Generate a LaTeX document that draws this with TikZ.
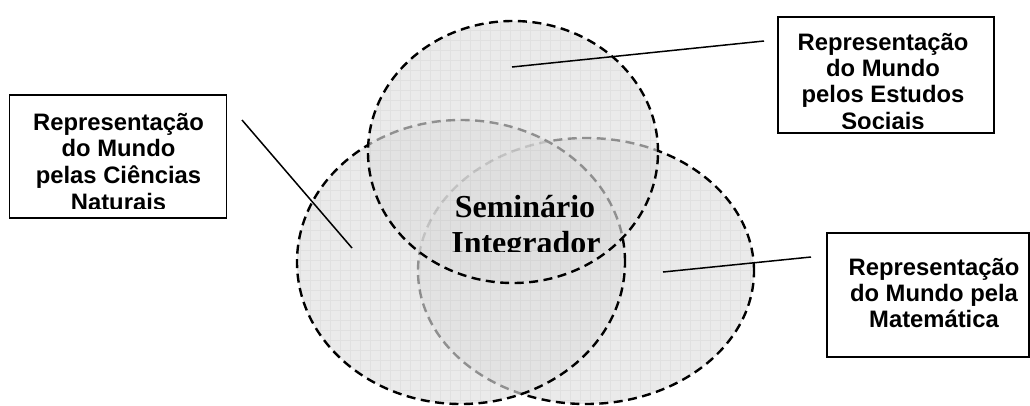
\documentclass[tikz,border=0pt]{standalone}
\usepackage{fontspec}
\setmainfont{Liberation Serif}
\newfontfamily\arialfont{Liberation Sans}
\usetikzlibrary{shapes.geometric}
\begin{document}
\begin{tikzpicture}[x=1pt,y=-1pt,
  venn/.style={ellipse, draw=black, line width=2.4pt, dash pattern=on 9pt off 5.5pt,
    fill=black!13, fill opacity=0.65, inner sep=0pt},
  labelbox/.style={draw=black, line width=1.5pt, inner sep=0pt},
  boxtext/.style={font=\arialfont\bfseries\fontsize{23.8}{26}\selectfont, anchor=base, inner sep=0pt},
  centertext/.style={font=\bfseries\fontsize{32}{36}\selectfont, anchor=base, inner sep=0pt},
  leader/.style={line width=1.5pt}]
\useasboundingbox (0,0) rectangle (1030,405);
% ellipses (drawn in this order so the later fills grey the earlier borders)
\node[venn, minimum width=336pt, minimum height=266pt] (R) at (586,271) {};
\node[venn, minimum width=328pt, minimum height=284pt] (L) at (461,262) {};
\node[venn, minimum width=290pt, minimum height=262pt] (T) at (513,152) {};
% faint grid texture inside the ellipses
\begin{scope}
  \clip (586,271) ellipse [x radius=168pt, y radius=133pt]
        (461,262) ellipse [x radius=164pt, y radius=142pt]
        (513,152) ellipse [x radius=145pt, y radius=131pt];
  \draw[black, opacity=0.04, line width=0.5pt, step=10pt] (290,405) grid (760,15);
\end{scope}
% centre text
\begin{scope}
  \clip (400,150) rectangle (650,251.5);
  \node[centertext] (c1) at (525,217) {Seminário};
  \node[centertext] (c2) at (526,253) {Integrador};
\end{scope}
% left box
\node[labelbox, minimum width=217pt, minimum height=123pt] (BL) at (118,156.5) {};
\begin{scope}
  \clip (10,96) rectangle (226,208.5);
  \node[boxtext] (bl1) at (118.5,130) {Representação};
  \node[boxtext] (bl2) at (118.5,156.7) {do Mundo};
  \node[boxtext] (bl3) at (118.5,183.3) {pelas Ciências};
  \node[boxtext] (bl4) at (118.5,210.5) {Naturais};
\end{scope}
% top right box
\node[labelbox, minimum width=216pt, minimum height=116pt] (BT) at (886,75) {};
\begin{scope}
  \clip (779,18) rectangle (993,128.3);
  \node[boxtext] (bt1) at (883,50) {Representação};
  \node[boxtext] (bt2) at (883,76.7) {do Mundo};
  \node[boxtext] (bt3) at (883,102.3) {pelos Estudos};
  \node[boxtext] (bt4) at (883,129.5) {Sociais};
\end{scope}
% right box
\node[labelbox, minimum width=202pt, minimum height=124pt] (BR) at (928,295) {};
\node[boxtext] (br1) at (934,275) {Representação};
\node[boxtext] (br2) at (934,301.7) {do Mundo pela};
\node[boxtext] (br3) at (934,327.5) {Matemática};
% leader lines
\coordinate (lla) at (242,120);
\coordinate (llb) at (352,248);
\coordinate (lta) at (512,67);
\coordinate (ltb) at (764,41);
\coordinate (lra) at (663,272);
\coordinate (lrb) at (811,257);
\draw[leader] (lla) -- (llb);
\draw[leader] (lta) -- (ltb);
\draw[leader] (lra) -- (lrb);
\end{tikzpicture}
\end{document}
